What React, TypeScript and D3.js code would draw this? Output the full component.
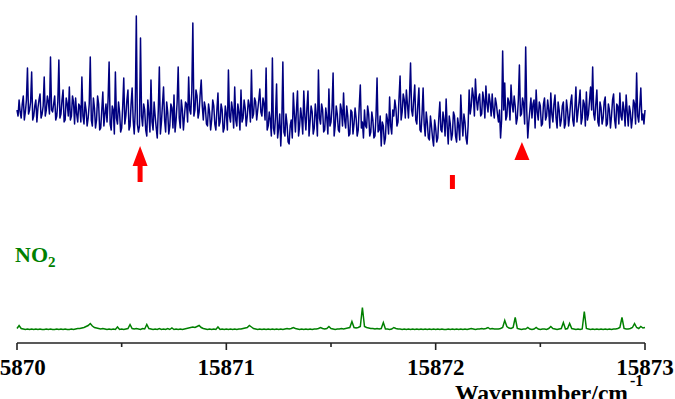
import React, { useEffect, useRef } from 'react'
import * as d3 from 'd3'

// spectrum sampled every 0.01 cm-1 from 15870, plus readings at the half steps
const WN_START = 15870
const WN_STEP = 0.01

// measured spectrum (arb. units) at 15870 + i*0.01
const signal = [
  30, 40, 22, 44, 28, 72, 30, 68, 24, 40,
  32, 46, 26, 63, 30, 38, 83, 28, 44, 24,
  80, 26, 50, 20, 36, 53, 24, 38, 42, 18,
  34, 63, 16, 30, 22, 83, 14, 32, 20, 36,
  12, 48, 26, 18, 78, 10, 30, 68, 16, 28,
  12, 62, 24, 50, 14, 52, 6, 124, 8, 102,
  14, 30, 4, 26, 60, 10, 24, 2, 73, 18,
  53, 8, 28, 14, 32, 45, 20, 73, 12, 30,
  24, 36, 63, 26, 117, 30, 44, 28, 60, 20,
  32, 14, 28, 20, 34, 10, 47, 18, 30, 12,
  26, 70, 18, 30, 53, 14, 28, 50, 22, 32,
  24, 34, 70, 26, 38, 30, 51, 24, 36, 72,
  14, 20, 82, 6, 56, 12, -6, 78, 4, 16,
  -4, 20, 47, 8, 49, 14, 22, 49, 10, 49,
  18, 28, 12, 24, 70, 16, 30, 10, 22, 51,
  18, 67, 14, 26, 8, 30, 47, 12, 24, 6,
  28, 16, 22, 10, 55, 18, 30, 12, 26, 8,
  20, 4, 62, 10, -6, 14, 2, 20, 43, 6,
  24, 32, 18, 64, 28, 40, 50, 22, 77, 24,
  55, 16, 52, 8, 52, 4, 18, 0, 14, -6,
  12, 2, 38, 8, 20, 41, -4, 16, 6, 24,
  -2, 14, 45, 4, 18, -4, 50, 34, 44, 61,
  30, 46, 26, 40, 54, 28, 38, 46, 22, 36,
  18, 2, 89, 57, 24, 38, 55, 28, 34, 22,
  75, 26, 36, 93, 2, 30, 22, 40, 50, 20,
  34, 16, 42, 24, 30, 47, 18, 45, 12, 30,
  20, 38, 16, 30, 24, 45, 14, 53, 28, 50,
  22, 36, 48, 26, 53, 73, 20, 50, 14, 32,
  22, 43, 16, 30, 24, 46, 12, 34, 47, 20,
  30, 45, 14, 28, 22, 36, 67, 18, 52, 26,
  30,
]

// readings at 15870.005 + i*0.01
const signalHalf = [
  24, 28, 36, 20, 40, 26, 38, 20, 34, 18,
  40, 22, 34, 24, 44, 26, 30, 36, 20, 38,
  22, 40, 18, 42, 24, 20, 44, 16, 26, 36,
  18, 24, 38, 14, 36, 20, 42, 12, 44, 10,
  30, 14, 36, 40, 16, 34, 6, 22, 38, 8,
  34, 16, 40, 10, 36, 20, 30, 16, 14, 24,
  36, 10, 40, 8, 18, 38, 12, 30, 6, 36,
  20, 38, 6, 36, 12, 8, 38, 22, 40, 10,
  38, 18, 30, 48, 24, 50, 22, 46, 34, 38,
  16, 36, 10, 40, 16, 30, 14, 36, 8, 34,
  10, 24, 38, 12, 20, 36, 10, 18, 40, 14,
  40, 18, 22, 42, 20, 40, 28, 42, 20, 10,
  28, 4, 12, 24, 2, 26, 18, 8, 26, -2,
  14, 2, 26, 30, 4, 32, 6, 24, 32, 4,
  34, 6, 36, 4, 22, 36, 8, 32, 6, 14,
  32, 4, 34, 10, 36, 14, 20, 34, 4, 30,
  6, 32, 4, 34, 12, 2, 14, 34, 4, 28,
  2, 24, 8, 24, 18, -4, 26, 6, 14, 30,
  40, 14, 42, 20, 46, 22, 36, 44, 30, 40,
  20, 36, 10, 26, 16, 28, 2, 24, 2, 20,
  -2, 22, 10, 28, 4, 14, 24, 0, 28, 4,
  22, 0, 20, 26, 2, 14, 26, 52, 24, 40,
  42, 24, 48, 22, 36, 46, 24, 30, 42, 26,
  30, 20, 30, 20, 42, 20, 36, 44, 16, 40,
  24, 42, 16, 30, 18, 42, 36, 12, 28, 38,
  14, 36, 20, 40, 12, 26, 36, 22, 38, 14,
  34, 12, 40, 14, 38, 20, 32, 18, 38, 16,
  40, 14, 20, 40, 30, 26, 36, 18, 38, 16,
  38, 14, 36, 12, 40, 20, 36, 16, 24, 38,
  14, 28, 34, 12, 40, 16, 24, 34, 20, 16,
]

// NO2 reference spectrum (arb. units) at 15870 + i*0.01
const no2 = [
  1, 4, 1, 0.5, 0, 0.5, 0, 0.5, 0, 0.5,
  0, 0.5, 0, 0, 0.5, 0, 0.5, 0, 0, 0.5,
  0, 0.5, 0, 0.5, 0, 0, 0.5, 0, 0.5, 1,
  1, 1.5, 2, 3, 4, 6, 3.5, 2, 1.5, 1,
  0.5, 1, 0.5, 0, 0.5, 0, 0.5, 0, 2.5, 0,
  0.5, 0, 0.5, 1, 5, 1, 0.5, 1, 0.5, 0,
  1, 0.5, 5, 1, 0.5, 0, 0.5, 0, 1, 0,
  0.5, 0, 1, 0, 1.5, 0, 0.5, 0, 0.5, 0,
  0.5, 1, 1.5, 2, 2.5, 2, 3, 4, 2, 1,
  0.5, 0, 0.5, 0, 0.5, 0, 2.5, 0, 0.5, 0,
  0.5, 0, 0.5, 0, 0.5, 0, 0.5, 0.5, 1, 1.5,
  2, 4, 2.5, 1, 0.5, 0, 0.5, 0, 0.5, 0,
  0.5, 0, 0.5, 0, 0.5, 0, 0.5, 0, 0.5, 1,
  0.5, 1, 2, 1, 0.5, 0, 0.5, 0, 0.5, 0,
  0.5, 0, 0.5, 0.5, 1, 2, 1, 0.5, 1, 3,
  1, 0.5, 0, 0.5, 0.5, 1, 0.5, 1, 1.5, 2,
  8, 2, 1.5, 2, 3, 22, 3, 2, 1.5, 1,
  1, 0.5, 1, 0.5, 1, 7, 0.5, 0.5, 0, 0.5,
  2, 1, 0.5, 0.5, 0, 0.5, 0, 0.5, 0, 0.5,
  0, 0.5, 0, 0.5, 0, 0.5, 0, 0.5, 0, 0.5,
  0, 0.5, 0, 0.5, 0, 0, 0.5, 0, 0.5, 0,
  0.5, 0, 0.5, 0, 0.5, 0, 0.5, 1, 0.5, 0,
  0.5, 0.5, 1, 0.5, 1, 2, 0.5, 1, 0.5, 0.5,
  0.5, 1, 2, 9, 3, 1.5, 1, 2, 12, 1,
  0.5, 0, 0.5, 0.5, 2, 0.5, 0, 0.5, 2, 0.5,
  0, 0.5, 0.5, 0, 1, 3, 1, 0.5, 0, 0.5,
  1, 7, 0.5, 1, 6, 1, 0.5, 0, 0.5, 0,
  0.5, 18, 1, 0.5, 0, 0.5, 0, 0.5, 0, 0.5,
  0, 0.5, 0, 0.5, 0, 0.5, 0.5, 1, 2, 12,
  1, 0.5, 0.5, 1, 2, 6, 2, 1, 3, 1.5,
  2,
]

const majorTicks = [15870, 15871, 15872, 15873]
const minorTicks = [15870.5, 15871.5, 15872.5]

// marked lines
const arrowAt = 15870.588
const barAt = 15872.08
const triangleAt = 15872.412

const App = () => {
  const refSvg = useRef<SVGSVGElement>(null)
  const width = 675
  const height = 399

  useEffect(() => {
    const svg = d3.select(refSvg.current)
    svg.selectAll('*').remove()

    const x = d3.scaleLinear().domain([15870, 15873]).range([17, 645])
    const yTop = d3.scaleLinear().domain([0, 140]).range([140, 0])
    const yNo2 = d3.scaleLinear().domain([0, 30]).range([329.5, 299.5])
    const font = '"Liberation Serif", "Times New Roman", serif'

    // merge full and half step readings into one trace
    const trace: [number, number][] = []
    signal.forEach((v, i) => {
      trace.push([WN_START + i * WN_STEP, v])
      if (i < signalHalf.length) trace.push([WN_START + (i + 0.5) * WN_STEP, signalHalf[i]])
    })

    const lineTop = d3.line<[number, number]>().x((d) => x(d[0])).y((d) => yTop(d[1]))
    svg.append('path')
      .attr('d', lineTop(trace))
      .attr('fill', 'none')
      .attr('stroke', '#000080')
      .attr('stroke-width', 1.5)
      .attr('stroke-linejoin', 'round')

    const lineNo2 = d3.line<number>().x((d, i) => x(WN_START + i * WN_STEP)).y((d) => yNo2(d))
    svg.append('path')
      .attr('d', lineNo2(no2))
      .attr('fill', 'none')
      .attr('stroke', '#008000')
      .attr('stroke-width', 1.5)

    // red markers
    const ax = x(arrowAt)
    svg.append('path')
      .attr('d', `M${ax},146 L${ax + 7.5},166 L${ax + 2.5},166 L${ax + 2.5},182 L${ax - 2.5},182 L${ax - 2.5},166 L${ax - 7.5},166 Z`)
      .attr('fill', '#ff0000')
    const bx = x(barAt)
    svg.append('rect')
      .attr('x', bx - 2.5).attr('y', 175).attr('width', 5).attr('height', 14)
      .attr('fill', '#ff0000')
    const tx = x(triangleAt)
    svg.append('path')
      .attr('d', `M${tx},142 L${tx + 7.5},160 L${tx - 7.5},160 Z`)
      .attr('fill', '#ff0000')

    // x axis
    const axisY = 343
    const axis = svg.append('g').attr('transform', `translate(0,${axisY})`)
    axis.append('line')
      .attr('x1', x(15870)).attr('x2', x(15873))
      .attr('stroke', '#222').attr('stroke-width', 1.6)
    axis.selectAll('.major').data(majorTicks).enter().append('line')
      .attr('x1', (d) => x(d)).attr('x2', (d) => x(d))
      .attr('y1', 0).attr('y2', 7)
      .attr('stroke', '#222').attr('stroke-width', 1.6)
    axis.selectAll('.minor').data(minorTicks).enter().append('line')
      .attr('x1', (d) => x(d)).attr('x2', (d) => x(d))
      .attr('y1', 0).attr('y2', 4)
      .attr('stroke', '#222').attr('stroke-width', 1.6)
    axis.selectAll('.lbl').data(majorTicks).enter().append('text')
      .attr('x', (d) => x(d)).attr('y', 32)
      .attr('text-anchor', 'middle')
      .attr('font-family', font).attr('font-weight', 'bold').attr('font-size', 23)
      .attr('fill', '#000')
      .text((d) => d3.format('d')(d))

    const title = svg.append('text')
      .attr('x', 455).attr('y', 401)
      .attr('font-family', font).attr('font-weight', 'bold').attr('font-size', 23.6)
      .attr('fill', '#000')
    title.append('tspan').text('Wavenumber/cm')
    title.append('tspan').attr('dx', 2).attr('dy', -15).attr('font-size', 16).text('-1')

    const no2Label = svg.append('text')
      .attr('x', 15).attr('y', 262)
      .attr('font-family', font).attr('font-weight', 'bold').attr('font-size', 22)
      .attr('fill', '#008000')
    no2Label.append('tspan').text('NO')
    no2Label.append('tspan').attr('dy', 5).attr('font-size', 15).text('2')
  }, [])

  return (
    <svg
      ref={refSvg}
      width={width}
      height={height}
      style={{ position: 'absolute', left: 0, top: 0, background: '#fff' }}
    />
  )
}

export default App
